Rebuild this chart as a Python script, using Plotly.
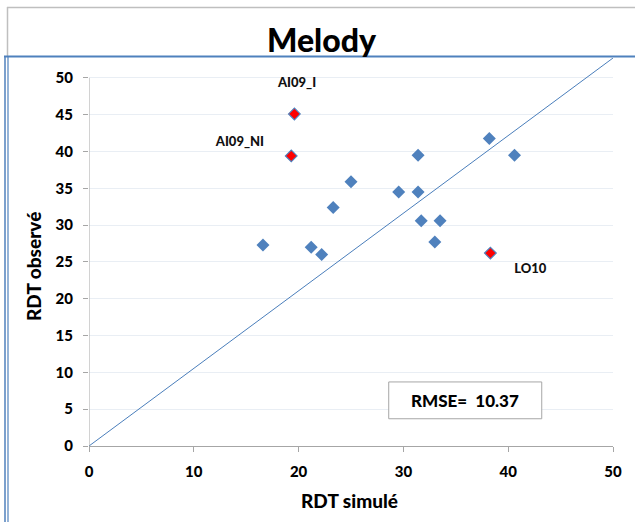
import plotly.graph_objects as go

# ---- data ----
sim_blue = [16.6, 21.2, 22.2, 23.3, 25.0, 29.55, 31.4, 31.4, 31.7, 33.0, 33.5, 38.2, 40.6]
obs_blue = [27.3, 27.0, 26.0, 32.4, 35.9, 34.5, 34.5, 39.5, 30.6, 27.7, 30.6, 41.75, 39.5]

red_names = ["AI09_I", "AI09_NI", "LO10"]
sim_red = [19.6, 19.3, 38.3]
obs_red = [45.1, 39.4, 26.2]
red_label_x = [19.85, 14.4, 42.1]
red_label_y = [49.2, 41.2, 24.0]

diag_x = [0, 50]
diag_y = [0, 52.7]

x_ticks = [0, 10, 20, 30, 40, 50]
y_ticks = [0, 5, 10, 15, 20, 25, 30, 35, 40, 45, 50]

rmse_text = "RMSE=  10.37"

W, H = 635, 522
L, R, T, B = 89, 22, 58, 76
PW = W - L - R
PH = H - T - B

def px(x):
    return (x - L) / PW

def py(y):
    return (H - B - y) / PH

BLUE = "#4f81bd"
FONT = "Lato"
WT = 900

fig = go.Figure()

fig.add_trace(go.Scatter(
    x=diag_x, y=diag_y, mode="lines",
    line=dict(color="#4a7ebb", width=1), hoverinfo="skip", showlegend=False))

fig.add_trace(go.Scatter(
    x=sim_blue, y=obs_blue, mode="markers",
    marker=dict(symbol="diamond", size=10, color=BLUE, line=dict(width=0)),
    showlegend=False))

fig.add_trace(go.Scatter(
    x=sim_red, y=obs_red, mode="markers",
    marker=dict(symbol="diamond", size=9, color="#ff0000", line=dict(width=1.2, color=BLUE)),
    showlegend=False))

fig.add_trace(go.Scatter(
    x=red_label_x, y=red_label_y, mode="text", text=red_names,
    textfont=dict(family=FONT, size=13, color="#111111", weight=WT),
    textposition="middle center", showlegend=False, hoverinfo="skip"))

shapes = []
# y axis line only from 0 to 50
shapes.append(dict(type="line", xref="x", yref="y", x0=0, x1=0, y0=0, y1=50,
                   line=dict(color="#a6a6a6", width=1)))
# RMSE box
shapes.append(dict(type="rect", xref="x", yref="y", x0=28.6, x1=43.2, y0=3.7, y1=8.7,
                   line=dict(color="#a6a6a6", width=1), fillcolor="white", layer="above"))
# outer frame (gray)
shapes.append(dict(type="line", xref="paper", yref="paper", x0=px(7), x1=px(636), y0=py(7.5), y1=py(7.5),
                   line=dict(color="#bfbfbf", width=1.5)))
shapes.append(dict(type="line", xref="paper", yref="paper", x0=px(7.5), x1=px(7.5), y0=py(7), y1=py(56),
                   line=dict(color="#bfbfbf", width=1.5)))
# blue frame
shapes.append(dict(type="line", xref="paper", yref="paper", x0=px(4), x1=px(636), y0=py(56.5), y1=py(56.5),
                   line=dict(color=BLUE, width=2)))
shapes.append(dict(type="line", xref="paper", yref="paper", x0=px(5), x1=px(5), y0=py(56), y1=py(523),
                   line=dict(color=BLUE, width=1.5)))
shapes.append(dict(type="line", xref="paper", yref="paper", x0=px(8), x1=px(8), y0=py(56), y1=py(523),
                   line=dict(color=BLUE, width=1.2)))

common = dict(showarrow=False, xanchor="center", yanchor="middle")
annotations = [
    dict(text="Melody", xref="paper", yref="paper", x=px(322), y=py(40),
         font=dict(family=FONT, size=32, color="black", weight=WT), **common),
    dict(text="RDT simulé", xref="paper", yref="paper", x=px(349), y=py(500),
         font=dict(family=FONT, size=19, color="black", weight=WT), **common),
    dict(text="RDT observé", xref="paper", yref="paper", x=px(33), y=py(267), textangle=-90,
         font=dict(family=FONT, size=19, color="black", weight=WT), **common),
    dict(text=rmse_text, xref="x", yref="y", x=35.9, y=6.2,
         font=dict(family=FONT, size=17, color="black", weight=WT), **common),
]

fig.update_layout(
    width=W, height=H,
    margin=dict(l=L, r=R, t=T, b=B, autoexpand=False),
    paper_bgcolor="white", plot_bgcolor="white",
    shapes=shapes, annotations=annotations,
    showlegend=False,
)

fig.update_xaxes(
    range=[0, 50], tickmode="array", tickvals=x_ticks, ticktext=[str(v) for v in x_ticks],
    showgrid=False, zeroline=False, showline=True, linecolor="#a6a6a6", linewidth=1,
    ticks="outside", ticklen=5, tickcolor="#a6a6a6", ticklabelstandoff=7,
    tickfont=dict(family=FONT, size=15, color="black", weight=WT), automargin=False,
)
fig.update_yaxes(
    range=[0, 52.7], tickmode="array", tickvals=y_ticks, ticktext=[str(v) for v in y_ticks],
    showgrid=True, gridcolor="#e9eef4", gridwidth=1, zeroline=False, showline=False,
    ticks="outside", ticklen=5, tickcolor="#a6a6a6", ticklabelstandoff=7,
    tickfont=dict(family=FONT, size=15, color="black", weight=WT), automargin=False,
)

fig.write_html("out.html")
